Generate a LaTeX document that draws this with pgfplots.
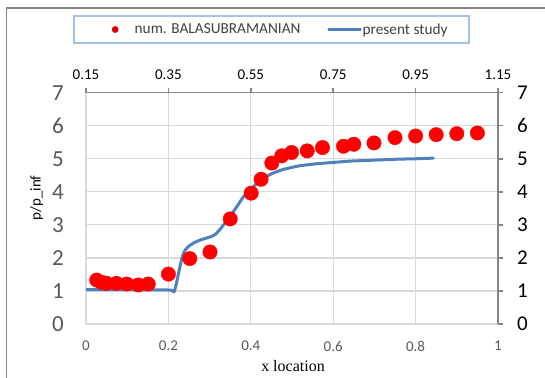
\documentclass[border=0pt]{standalone}
\usepackage{pgfplots}
\pgfplotsset{compat=1.18}
\usepackage{fontspec}
\setmainfont{Carlito}
\newfontfamily\seriffont{Liberation Serif}
\definecolor{gridgray}{RGB}{217,217,217}
\definecolor{axgray}{RGB}{134,134,134}
\definecolor{lblgray}{RGB}{89,89,89}
\definecolor{lineblue}{RGB}{79,129,189}
\definecolor{legblue}{RGB}{160,196,232}
\definecolor{txtgray}{RGB}{64,64,64}
\definecolor{darkred}{RGB}{192,0,0}
\pgfplotsset{
  dotlegend/.style={legend image code/.code={\path (0bp,0bp) (24bp,0bp);
    \draw[##1, only marks, mark size=3bp, mark options={fill=darkred, draw=red, line width=0.8bp}] plot coordinates {(19.5bp,0bp)};}},
  linelegend/.style={legend image code/.code={\draw[##1, line width=2.2bp] (0bp,0bp) -- (32bp,0bp);}},
}
\begin{document}
\begin{tikzpicture}
\useasboundingbox (0,0) rectangle (545bp,378bp);
\fill[white] (0,0) rectangle (545bp,378bp);
\draw[axgray, line width=1.5bp] (6.5bp,0) -- (6.5bp,370bp) -- (545bp,370bp);

\begin{axis}[
  at={(86bp,54bp)}, anchor=south west,
  scale only axis, width=412bp, height=231.3bp,
  xmin=0, xmax=1, ymin=0, ymax=7,
  xtick={0,0.2,0.4,0.6,0.8,1}, ytick={0,1,2,3,4,5,6,7},
  xticklabels={0,0.2,0.4,0.6,0.8,1},
  axis x line*=bottom, axis y line*=left,
  axis line style={-, draw=gridgray, line width=1.2bp},
  grid=major, grid style={gridgray, line width=1.2bp},
  major tick length=0pt,
  /pgf/number format/assume math mode=true,
  xticklabel style={font=\fontsize{15bp}{18bp}\selectfont, text=lblgray, inner ysep=0pt, anchor=north, yshift=-17bp},
  yticklabel style={font=\fontsize{23bp}{26bp}\selectfont, text=lblgray, inner xsep=0pt, anchor=east, xshift=-22bp},
  xlabel={\seriffont x location},
  xlabel style={font=\fontsize{16bp}{19bp}\selectfont, text=black, at={(axis description cs:0.5025,-0.1816)}, anchor=center},
  ylabel={p/p\_inf},
  ylabel style={font=\fontsize{15bp}{18bp}\selectfont, text=black, at={(axis description cs:-0.1197,0.545)}, anchor=center, rotate=0},
  legend columns=2,
  legend style={at={(axis description cs:-0.0323,1.2732)}, anchor=west,
    draw=legblue, line width=2bp, inner xsep=21bp, inner ysep=6bp,
    font=\fontsize{15.3bp}{18bp}\selectfont, text=txtgray,
    nodes={inner xsep=0pt, inner ysep=1bp},
    /tikz/column 1/.style={column sep=14bp},
    /tikz/column 2/.style={column sep=27bp},
    /tikz/column 3/.style={column sep=1bp}},
]
\addplot[only marks, mark=*, mark size=7.2bp, mark options={fill=red, draw=red}, dotlegend]
coordinates {
(0.026,1.33) (0.038,1.26) (0.050,1.23) (0.074,1.23) (0.099,1.21) (0.127,1.18) (0.151,1.21)
(0.200,1.51) (0.252,1.98) (0.301,2.18) (0.350,3.18) (0.401,3.96)
(0.425,4.38) (0.451,4.87) (0.475,5.09) (0.499,5.19) (0.537,5.24) (0.574,5.34)
(0.625,5.38) (0.650,5.44) (0.699,5.48) (0.750,5.64) (0.800,5.69) (0.850,5.73)
(0.900,5.76) (0.950,5.78)
};
\addlegendentry{num. BALASUBRAMANIAN}
\addplot[lineblue, line width=3bp, line join=round, line cap=round, linelegend]
coordinates {
(0,1.04) (0.1,1.04) (0.2,1.03) (0.208,1.02) (0.214,0.97) (0.219,1.2) (0.224,1.5)
(0.230,1.85) (0.236,2.13) (0.242,2.26) (0.250,2.36) (0.262,2.46) (0.277,2.54)
(0.292,2.6) (0.305,2.65) (0.315,2.72) (0.325,2.86) (0.337,3.05) (0.35,3.26)
(0.366,3.55) (0.382,3.85) (0.398,4.07) (0.41,4.2) (0.422,4.32) (0.436,4.45)
(0.451,4.55) (0.465,4.62) (0.479,4.68) (0.5,4.74) (0.519,4.79) (0.56,4.85)
(0.6,4.89) (0.64,4.93) (0.681,4.95) (0.72,4.97) (0.762,4.99) (0.8,5.0) (0.843,5.02)
};
\addlegendentry{present study}
\end{axis}

\begin{axis}[
  at={(86bp,54bp)}, anchor=south west,
  scale only axis, width=412bp, height=231.3bp,
  xmin=0.15, xmax=1.15, ymin=0, ymax=7,
  xtick={0.15,0.35,0.55,0.75,0.95,1.15},
  xticklabels={0.15,0.35,0.55,0.75,0.95,1.15},
  ytick={0,1,2,3,4,5,6,7},
  axis x line*=top, axis y line*=right,
  axis line style={-, draw=axgray, line width=1.5bp},
  tick style={axgray, line width=1.5bp}, tick align=outside, major tick length=5bp,
  /pgf/number format/assume math mode=true,
  xticklabel style={font=\fontsize{15bp}{18bp}\selectfont, text=black, inner ysep=0pt, anchor=south, yshift=8bp},
  yticklabel style={font=\fontsize{21bp}{24bp}\selectfont, text=black, inner xsep=0pt, anchor=west, xshift=14bp},
]
\addplot[draw=none, forget plot] coordinates {(0.5,0)};
\end{axis}
\end{tikzpicture}
\end{document}
